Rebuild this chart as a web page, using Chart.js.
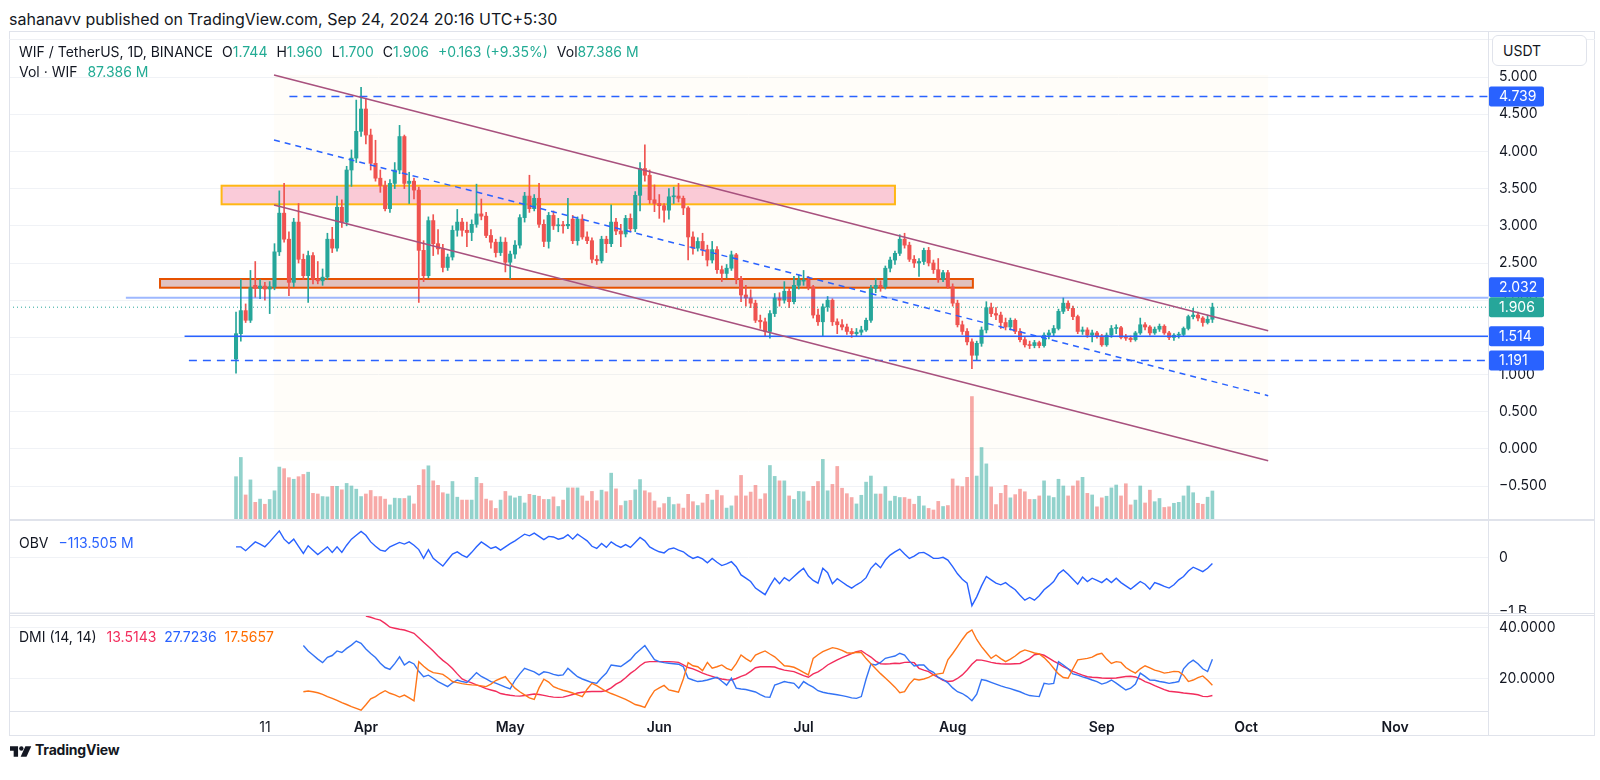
<!DOCTYPE html>
<html lang="en">
<head>
<meta charset="UTF-8" />
<title>WIF / TetherUS 1D</title>
<script src="https://cdn.jsdelivr.net/npm/chart.js"></script>
<style>
  body { margin:0; width:1600px; height:780px; background:#fff; position:relative; overflow:hidden;
         font-family: Inter, "Noto Sans", sans-serif; color:#131722; }
  .abs { position:absolute; white-space:nowrap; }
  canvas { position:absolute; }
  .g { color:#22ab94; }
  .line { position:absolute; background:#e0e3eb; }
  .legend span { margin-left:9px; }
</style>
</head>
<body>

<div class="abs" style="left:9px; top:9px; font-size:16px;">sahanavv published on TradingView.com, Sep 24, 2024 20:16 UTC+5:30</div>

<canvas id="price" width="1581" height="480" style="left:9px; top:39px;"></canvas>
<canvas id="obv" width="1581" height="93" style="left:9px; top:521px;"></canvas>
<canvas id="dmi" width="1581" height="120" style="left:9px; top:616px;"></canvas>

<!-- frame and pane separators -->
<div class="abs" style="left:9px; top:31px; width:1586px; height:705px; border:1px solid #e0e3eb; box-sizing:border-box;"></div>
<div class="line" style="left:9px; top:39px; width:1586px; height:1px; background:#eef0f4;"></div>
<div class="line" style="left:9px; top:519px; width:1586px; height:2px;"></div>
<div class="line" style="left:9px; top:613px; width:1586px; height:1px;"></div>
<div class="line" style="left:9px; top:615px; width:1586px; height:1px;"></div>
<div class="line" style="left:1488px; top:31px; width:1px; height:705px;"></div>

<div class="abs legend" style="left:19px; top:43px; font-size:14px;">WIF / TetherUS, 1D, BINANCE<span>O<b class="g" style="font-weight:400">1.744</b></span><span>H<b class="g" style="font-weight:400">1.960</b></span><span>L<b class="g" style="font-weight:400">1.700</b></span><span>C<b class="g" style="font-weight:400">1.906</b></span><span class="g">+0.163 (+9.35%)</span><span>Vol<b class="g" style="font-weight:400">87.386 M</b></span></div>
<div class="abs" style="left:19px; top:63px; font-size:14px;">Vol · WIF <span class="g" style="margin-left:6px">87.386 M</span></div>
<div class="abs" style="left:19px; top:534px; font-size:14px;">OBV <span style="color:#2962ff; margin-left:6px">−113.505 M</span></div>
<div class="abs" style="left:19px; top:628px; font-size:14px;">DMI (14, 14) <span style="color:#f22c5c; margin-left:6px">13.5143</span> <span style="color:#2962ff; margin-left:4px">27.7236</span> <span style="color:#ff6d00; margin-left:4px">17.5657</span></div>

<div class="abs" style="left:1492px; top:35px; width:95px; height:31px; border:1px solid #e0e3eb; border-radius:6px; box-sizing:border-box; background:#fff; font-size:14px; line-height:29px; padding-left:10px;">USDT</div>

<div class="abs" style="left:10px; top:743px;">
  <svg width="22" height="15" viewBox="0 0 30 20">
    <path d="M0 3 H11 V17 H5 V9 H0 Z" fill="#131722"/>
    <circle cx="15.5" cy="6" r="3" fill="#131722"/>
    <path d="M21 3 H29 L22.5 17 H14.5 Z" fill="#131722"/>
  </svg>
</div>
<div class="abs" style="left:35px; top:741px; font-size:14px; font-weight:700; letter-spacing:-0.2px;">TradingView</div>

<script>
// ---- daily candles, 5 Mar 2024 (index 0) to 24 Sep 2024 (index 203)
const open = [
  1.21,1.55,1.86,1.73,2.20,2.16,2.19,2.15,2.18,2.65,
  3.17,2.82,2.24,3.05,2.55,2.33,2.60,2.28,2.26,2.31,
  2.82,2.70,3.25,3.05,3.75,3.91,4.27,4.57,4.22,3.84,
  3.64,3.54,3.23,3.57,3.75,4.20,3.57,3.60,3.48,2.67,
  2.33,3.07,2.76,2.69,2.44,2.58,2.94,3.05,2.94,2.91,
  3.02,3.16,3.13,2.87,2.78,2.64,2.78,2.51,2.62,2.74,
  3.11,3.40,3.23,3.37,3.02,2.79,3.14,3.00,3.01,3.00,
  3.09,2.80,3.09,2.85,2.80,2.55,2.53,2.82,2.76,3.05,
  2.93,2.89,3.10,2.96,3.41,3.77,3.68,3.35,3.30,3.27,
  3.21,3.39,3.40,3.37,3.24,2.85,2.70,2.79,2.68,2.54,
  2.68,2.41,2.36,2.43,2.61,2.29,2.07,2.03,1.96,1.73,
  1.71,1.58,1.82,2.03,2.00,2.12,1.98,2.20,2.27,2.27,
  2.18,1.80,1.71,1.91,2.00,1.71,1.67,1.64,1.58,1.55,
  1.57,1.60,1.73,2.16,2.20,2.18,2.43,2.54,2.63,2.82,
  2.74,2.55,2.50,2.52,2.67,2.50,2.41,2.28,2.37,2.18,
  1.96,1.67,1.58,1.44,1.26,1.42,1.60,1.90,1.82,1.80,
  1.70,1.64,1.73,1.58,1.47,1.40,1.39,1.43,1.39,1.53,
  1.56,1.62,1.85,1.96,1.89,1.78,1.58,1.60,1.53,1.56,
  1.52,1.40,1.53,1.62,1.63,1.50,1.49,1.47,1.56,1.67,
  1.64,1.56,1.61,1.65,1.56,1.50,1.53,1.54,1.62,1.78,
  1.80,1.76,1.70,1.744
];
const high = [
  1.84,2.28,1.95,2.40,2.52,2.28,2.24,2.25,2.76,3.47,
  3.57,2.92,3.10,3.30,2.62,2.66,2.64,2.52,2.42,2.90,
  2.98,3.40,3.35,3.80,4.02,4.69,4.86,4.70,4.30,4.15,
  3.75,3.60,3.62,3.85,4.35,4.22,3.72,3.64,3.52,2.80,
  3.12,3.15,2.95,2.75,2.62,3.00,3.22,3.10,3.05,3.08,
  3.56,3.36,3.18,2.95,2.82,2.85,2.84,2.66,2.80,3.15,
  3.45,3.68,3.42,3.57,3.08,3.18,3.20,3.10,3.06,3.37,
  3.14,3.12,3.15,2.92,2.84,2.60,2.86,2.86,3.28,3.10,
  3.02,3.14,3.16,3.46,3.85,4.09,3.75,3.55,3.42,3.30,
  3.50,3.52,3.57,3.40,3.26,2.92,2.84,2.90,2.74,2.79,
  2.72,2.46,2.48,2.66,2.63,2.32,2.20,2.14,2.00,1.80,
  1.76,1.86,2.09,2.10,2.25,2.16,2.32,2.34,2.40,2.32,
  2.20,1.88,1.95,2.05,2.02,1.75,1.74,1.68,1.62,1.62,
  1.65,1.76,2.20,2.29,2.26,2.46,2.58,2.66,2.88,2.90,
  2.78,2.60,2.56,2.70,2.71,2.54,2.56,2.40,2.40,2.22,
  2.00,1.72,1.62,1.48,1.45,1.64,1.98,1.96,1.90,1.84,
  1.76,1.76,1.75,1.62,1.50,1.45,1.46,1.45,1.56,1.60,
  1.66,1.88,2.03,1.99,1.92,1.80,1.64,1.63,1.60,1.58,
  1.54,1.56,1.66,1.67,1.65,1.54,1.52,1.58,1.76,1.70,
  1.66,1.64,1.68,1.67,1.58,1.55,1.57,1.64,1.80,1.89,
  1.84,1.78,1.80,1.960
];
const low = [
  1.02,1.45,1.70,1.70,2.04,2.02,2.00,1.82,2.14,2.60,
  2.78,2.06,2.18,2.50,2.28,1.97,2.22,2.22,2.20,2.28,
  2.64,2.66,2.98,3.00,3.53,3.85,4.20,4.10,3.75,3.60,
  3.45,3.20,3.18,3.50,3.70,3.50,3.30,3.36,1.97,2.25,
  2.30,2.60,2.62,2.38,2.40,2.54,2.86,2.86,2.72,2.80,
  2.98,3.08,2.84,2.70,2.58,2.60,2.38,2.29,2.56,2.70,
  3.05,3.18,3.20,2.98,2.72,2.70,2.95,2.92,2.90,2.96,
  2.76,2.74,2.82,2.76,2.50,2.48,2.50,2.64,2.72,2.88,
  2.72,2.85,2.92,2.92,3.20,3.60,3.30,3.19,3.10,3.05,
  3.09,3.30,3.32,3.15,2.54,2.62,2.66,2.60,2.46,2.50,
  2.36,2.25,2.30,2.40,2.22,1.98,1.92,1.90,1.70,1.62,
  1.52,1.49,1.78,1.92,1.96,1.90,1.95,2.15,2.20,2.14,
  1.76,1.66,1.51,1.85,1.66,1.55,1.60,1.54,1.50,1.51,
  1.53,1.58,1.70,2.10,2.12,2.15,2.38,2.48,2.60,2.70,
  2.52,2.44,2.32,2.48,2.46,2.36,2.24,2.25,2.16,1.92,
  1.64,1.54,1.40,1.08,1.20,1.38,1.56,1.78,1.74,1.62,
  1.60,1.60,1.55,1.44,1.37,1.35,1.36,1.36,1.37,1.48,
  1.52,1.60,1.82,1.86,1.74,1.55,1.54,1.50,1.44,1.49,
  1.38,1.38,1.50,1.55,1.48,1.46,1.44,1.45,1.54,1.60,
  1.53,1.54,1.58,1.54,1.47,1.46,1.49,1.52,1.60,1.75,
  1.72,1.65,1.68,1.700
];
const close = [
  1.55,1.86,1.73,2.17,2.16,2.19,2.15,2.18,2.65,3.17,
  2.82,2.24,3.05,2.55,2.33,2.60,2.28,2.26,2.31,2.82,
  2.70,3.25,3.05,3.75,3.91,4.27,4.57,4.22,3.84,3.64,
  3.54,3.23,3.57,3.75,4.20,3.57,3.60,3.48,2.67,2.33,
  3.07,2.76,2.69,2.44,2.58,2.94,3.05,2.94,2.91,3.02,
  3.16,3.13,2.87,2.78,2.64,2.78,2.51,2.62,2.74,3.11,
  3.40,3.23,3.37,3.02,2.79,3.14,3.00,3.01,3.00,3.02,
  2.80,3.09,2.85,2.80,2.55,2.53,2.82,2.76,3.05,2.93,
  2.89,3.10,2.96,3.41,3.77,3.68,3.35,3.30,3.27,3.21,
  3.39,3.40,3.37,3.24,2.85,2.70,2.79,2.68,2.54,2.68,
  2.41,2.36,2.43,2.61,2.29,2.07,2.03,1.96,1.73,1.71,
  1.58,1.82,2.03,2.00,2.12,1.98,2.20,2.27,2.27,2.18,
  1.80,1.71,1.91,2.00,1.71,1.67,1.64,1.58,1.55,1.57,
  1.60,1.73,2.16,2.20,2.18,2.43,2.54,2.63,2.82,2.74,
  2.55,2.50,2.52,2.67,2.50,2.41,2.28,2.37,2.18,1.96,
  1.67,1.58,1.44,1.26,1.42,1.60,1.90,1.82,1.80,1.70,
  1.64,1.73,1.58,1.47,1.40,1.39,1.43,1.39,1.53,1.56,
  1.62,1.85,1.96,1.89,1.78,1.58,1.60,1.53,1.56,1.52,
  1.40,1.53,1.62,1.63,1.50,1.49,1.47,1.56,1.67,1.64,
  1.56,1.61,1.65,1.56,1.50,1.53,1.54,1.62,1.78,1.80,
  1.76,1.70,1.744,1.906
];
// volume, millions of WIF
const volume = [
  132,192,75,122,52,62,46,61,88,162,
  157,129,124,132,139,146,80,78,70,69,
  102,102,91,111,103,93,70,78,89,70,
  70,62,44,65,64,64,72,47,105,154,
  166,119,105,82,78,117,68,59,59,59,
  130,111,62,57,33,59,86,72,66,71,
  50,77,74,71,61,61,69,39,59,97,
  97,97,72,56,86,57,90,85,143,94,
  42,56,58,91,123,88,82,56,35,48,
  68,45,47,34,77,54,42,50,77,59,
  90,73,34,41,72,136,72,84,105,62,
  79,167,133,119,119,72,61,86,85,56,
  102,117,186,88,108,164,96,79,67,47,
  74,115,134,78,78,101,56,71,67,67,
  62,46,71,41,33,28,55,39,42,125,
  103,101,130,382,134,223,172,100,45,80,
  105,66,76,93,85,61,61,72,119,72,
  67,124,103,72,103,119,130,80,75,38,
  66,71,97,106,72,110,44,59,103,50,
  90,54,64,36,38,49,52,72,103,82,
  49,46,68,87.386
];
// on-balance volume, billions
const obv = [
  0.19,0.19,0.12,0.20,0.28,0.24,0.19,0.28,0.38,0.48,
  0.33,0.25,0.33,0.20,0.07,0.21,0.13,0.05,0.12,0.19,
  0.09,0.19,0.09,0.22,0.33,0.40,0.47,0.40,0.28,0.20,
  0.13,0.11,0.19,0.23,0.27,0.24,0.28,0.22,0.14,-0.02,
  0.14,-0.02,-0.09,-0.16,-0.05,0.06,0.10,0.04,0.00,0.09,
  0.19,0.28,0.22,0.16,0.19,0.13,0.19,0.25,0.30,0.36,
  0.42,0.39,0.44,0.38,0.32,0.38,0.37,0.33,0.35,0.41,
  0.33,0.42,0.36,0.30,0.20,0.16,0.25,0.18,0.28,0.22,
  0.18,0.23,0.18,0.27,0.36,0.30,0.19,0.14,0.10,0.08,
  0.15,0.17,0.13,0.10,0.03,-0.02,0.01,-0.03,-0.10,-0.02,
  -0.09,-0.15,-0.12,-0.08,-0.17,-0.32,-0.38,-0.44,-0.56,-0.62,
  -0.68,-0.52,-0.38,-0.48,-0.37,-0.43,-0.35,-0.27,-0.20,-0.34,
  -0.42,-0.47,-0.20,-0.28,-0.48,-0.39,-0.45,-0.51,-0.56,-0.50,
  -0.45,-0.37,-0.20,-0.11,-0.19,-0.05,0.04,0.10,0.15,0.06,
  -0.02,0.02,0.08,0.09,0.04,-0.02,-0.02,0.00,-0.05,-0.17,
  -0.30,-0.40,-0.47,-0.88,-0.72,-0.52,-0.35,-0.41,-0.47,-0.50,
  -0.46,-0.53,-0.59,-0.69,-0.78,-0.73,-0.78,-0.70,-0.59,-0.52,
  -0.44,-0.30,-0.23,-0.31,-0.40,-0.49,-0.36,-0.44,-0.38,-0.42,
  -0.46,-0.39,-0.46,-0.38,-0.46,-0.52,-0.58,-0.51,-0.44,-0.49,
  -0.58,-0.46,-0.49,-0.53,-0.56,-0.50,-0.41,-0.35,-0.25,-0.18,
  -0.22,-0.26,-0.20,-0.1135
];
// DMI (14, 14): ADX from index 27, +DI / -DI from index 14
const adx = [
  null,null,null,null,null,null,null,null,null,null,
  null,null,null,null,null,null,null,null,null,null,
  null,null,null,null,null,null,null,44.7,44.2,43.6,
  43.1,41.8,40.3,39.9,39.5,39.2,38.6,37.9,36.2,34.4,
  32.7,31.0,29.0,27.3,25.9,24.1,22.0,20.0,19.2,18.5,
  17.7,17.0,16.2,15.7,15.2,14.3,13.9,13.6,13.4,13.3,
  13.5,13.8,14.1,13.9,13.6,13.2,12.9,12.8,12.9,13.4,
  13.9,14.5,14.8,15.0,15.1,15.1,15.1,15.5,16.5,18.0,
  19.0,20.5,22.2,23.5,25.2,26.5,26.8,26.8,26.8,26.8,
  26.8,26.7,26.5,25.5,24.5,24.0,23.2,22.3,21.6,21.0,
  20.4,20.0,19.7,19.6,20.2,21.0,21.7,23.0,24.4,24.8,
  24.8,24.8,24.7,24.0,23.5,23.2,22.9,22.1,21.3,20.7,
  22.0,22.8,24.0,25.5,26.5,27.5,28.4,29.2,30.0,30.7,
  31.1,29.8,28.6,27.0,26.0,25.9,26.0,26.2,26.1,26.5,
  26.6,26.4,24.2,23.5,22.9,21.6,20.6,19.5,19.0,19.2,
  20.2,21.6,23.5,25.8,27.5,27.4,27.0,26.5,26.2,26.0,
  25.9,25.9,26.0,26.1,27.0,28.0,29.5,29.8,29.3,28.2,
  27.0,26.0,24.8,24.0,23.0,22.2,21.5,20.9,20.7,20.6,
  20.4,20.3,20.3,20.4,20.7,21.0,21.1,20.8,20.0,19.0,
  18.3,17.4,16.6,15.8,15.2,15.0,14.8,14.5,14.3,14.1,
  13.8,13.2,13.1,13.51
];
const plusDI = [
  null,null,null,null,null,null,null,null,null,null,
  null,null,null,null,33.1,31.0,29.4,27.8,26.4,28.5,
  29.2,31.0,30.4,32.0,33.3,34.9,34.0,31.8,30.0,28.4,
  26.2,24.5,23.8,26.0,28.7,25.5,26.8,25.9,23.0,20.9,
  21.5,20.3,19.0,18.0,17.0,18.5,19.6,19.0,18.6,20.5,
  22.5,21.0,20.0,19.0,18.4,17.6,16.8,16.1,19.5,22.0,
  24.2,23.5,22.8,21.6,22.8,22.5,21.8,21.4,21.6,24.2,
  22.5,20.9,20.0,19.3,18.6,18.3,20.5,22.3,25.5,25.2,
  24.9,26.2,27.6,29.8,31.5,33.1,30.3,27.6,26.8,26.4,
  26.2,26.0,25.8,24.8,20.3,19.6,19.0,19.2,19.6,20.2,
  20.7,19.1,17.6,20.3,16.4,16.1,15.9,15.4,14.9,13.9,
  13.0,12.8,17.6,18.3,19.0,18.6,18.3,16.4,19.0,17.8,
  16.8,15.4,14.8,14.4,14.1,13.8,13.5,13.1,12.6,12.4,
  13.1,20.0,25.9,25.5,26.5,28.1,28.6,29.0,30.1,29.4,
  27.0,25.1,25.5,25.5,23.6,22.6,20.6,19.8,18.5,16.5,
  15.0,14.3,13.1,11.5,14.0,19.8,19.4,18.7,18.0,17.3,
  16.7,16.2,15.6,15.0,14.2,13.5,13.3,13.1,18.3,18.0,
  18.3,26.8,25.5,24.0,22.0,21.5,20.8,20.3,19.6,19.0,
  18.0,18.6,19.6,18.4,17.0,15.7,16.4,18.0,22.3,21.0,
  19.6,19.5,19.0,18.7,18.3,18.6,19.0,24.0,26.1,27.4,
  26.0,24.0,22.9,27.72
];
const minusDI = [
  null,null,null,null,null,null,null,null,null,null,
  null,null,null,null,15.0,15.3,15.0,14.6,14.0,13.1,
  12.4,11.6,10.7,10.0,9.2,8.5,7.8,9.9,12.2,13.1,
  14.4,15.4,14.4,13.8,12.9,13.7,12.6,11.4,26.8,25.0,
  23.5,22.5,22.2,21.8,20.5,19.0,18.6,18.2,17.9,17.7,
  17.6,17.3,17.0,18.0,19.4,20.2,20.9,18.5,16.4,15.0,
  13.8,12.6,12.0,16.5,19.9,18.8,17.0,16.2,15.6,15.1,
  14.5,13.8,13.1,16.0,18.3,17.4,16.2,15.1,14.3,13.6,
  12.8,12.0,11.0,10.0,9.5,8.9,12.5,15.4,16.5,17.5,
  15.7,15.3,14.8,20.0,26.4,25.2,24.8,23.3,26.5,24.2,
  24.8,25.5,24.2,23.5,26.0,29.4,28.0,26.8,29.4,30.2,
  31.0,29.8,28.7,27.0,25.2,25.0,24.6,23.7,22.6,21.6,
  28.1,29.5,30.7,31.5,32.3,31.9,31.2,30.3,30.1,30.5,
  30.4,28.0,26.0,24.0,22.1,20.4,18.6,16.8,14.6,15.0,
  18.0,20.0,19.6,20.0,20.6,21.6,22.0,22.3,27.5,30.0,
  32.7,35.5,38.0,39.2,35.5,32.7,30.4,28.1,29.4,28.0,
  26.8,27.8,29.0,30.5,31.4,30.8,30.2,29.8,28.4,26.5,
  24.2,22.0,20.6,20.3,24.0,27.5,27.8,28.1,28.6,29.6,
  30.1,27.8,26.1,26.8,26.5,24.5,23.3,22.3,24.0,25.2,
  24.4,23.5,23.0,22.3,22.6,23.0,22.9,21.5,19.0,19.6,
  20.5,21.2,19.5,17.57
];

// axis ticks
const priceTicks = [-0.5, 0, 0.5, 1, 1.5, 2, 2.5, 3, 3.5, 4, 4.5, 5];
const obvTicks = [0, -1];
const dmiTicks = [20, 40];
const tickDays = [6, 27, 57, 88, 118, 149, 180, 210, 241];
const tickLabels = ['11', 'Apr', 'May', 'Jun', 'Jul', 'Aug', 'Sep', 'Oct', 'Nov'];

// drawings (day index, price)
const channelDays = [7.9, 214.6];
const channelUpper = [5.027, 1.59];
const channelLower = [3.28, -0.157];
const channelMid = [4.153, 0.716];
const zoneStart = [-3.0, -15.8];
const zoneEnd = [137.0, 153.2];
const zoneTop = [3.539, 2.285];
const zoneBottom = [3.289, 2.168];
const levelValues = [4.739, 2.032, 1.906, 1.514, 1.191];
const levelStart = [11.1, -22.9, -47.2, -10.7, -9.8];

// ---- view
const X_MIN = -47.2, X_MAX = 260.3;
const AXIS_W = 102;
const GREEN = '#26a69a', RED = '#ef5350';
const BLUE = '#2962ff';
const VOL_PER_PX = 3.12;

Chart.defaults.font.family = 'Inter, "Noto Sans", sans-serif';
Chart.defaults.color = '#131722';

const days = close.map((_, i) => i);
const up = close.map((c, i) => c >= open[i]);
const pts = arr => arr.map((v, i) => ({ x: i, y: v }));
const seg = (xs, ys) => [{ x: xs[0], y: ys[0] }, { x: xs[1], y: ys[1] }];

function fmtPrice(v) {
  const s = Math.abs(v).toFixed(3);
  return v < 0 ? '−' + s : s;
}
function fitAxis(s) { s.width = AXIS_W; s.paddingTop = 0; s.paddingBottom = 0; }
const baseX = { type: 'linear', min: X_MIN, max: X_MAX, display: false, offset: false, grid: { display: false } };
const baseOpts = {
  responsive: false, animation: false, devicePixelRatio: 1,
  layout: { padding: 0 },
  plugins: { legend: { display: false }, tooltip: { enabled: false } },
  elements: { point: { radius: 0 }, line: { tension: 0 } }
};

// zones and channel background, under the candles
const drawings = {
  id: 'drawings',
  beforeDatasetsDraw(chart) {
    const { ctx, chartArea: a, scales: { x, y } } = chart;
    ctx.save();
    ctx.beginPath();
    ctx.rect(a.left, a.top, a.right - a.left, a.bottom - a.top);
    ctx.clip();
    const bx0 = x.getPixelForValue(channelDays[0]), bx1 = x.getPixelForValue(channelDays[1]);
    const by0 = y.getPixelForValue(channelUpper[0]), by1 = y.getPixelForValue(channelLower[1]);
    ctx.fillStyle = 'rgba(255, 226, 180, 0.08)';
    ctx.fillRect(bx0, by0, bx1 - bx0, by1 - by0);

    const fills = ['rgba(245, 160, 185, 0.55)', 'rgba(180, 110, 110, 0.42)'];
    const strokes = ['#ffb714', '#e65100'];
    zoneStart.forEach((s, k) => {
      const x0 = x.getPixelForValue(s), x1 = x.getPixelForValue(zoneEnd[k]);
      const y0 = y.getPixelForValue(zoneTop[k]), y1 = y.getPixelForValue(zoneBottom[k]);
      ctx.fillStyle = fills[k];
      ctx.fillRect(x0, y0, x1 - x0, y1 - y0);
      ctx.strokeStyle = strokes[k];
      ctx.lineWidth = 2;
      ctx.strokeRect(x0, y0, x1 - x0, y1 - y0);
    });
    ctx.restore();
  }
};

// price tags on the right axis
const tags = {
  id: 'tags',
  afterDraw(chart) {
    const { ctx, chartArea: a, scales: { y } } = chart;
    const h = 20, last = close[close.length - 1];
    const items = levelValues.map(v => ({ v, y: y.getPixelForValue(v), fixed: v === last }));
    items.sort((p, q) => p.y - q.y);
    const f = items.findIndex(t => t.fixed);
    for (let k = f - 1; k >= 0; k--) if (items[k].y > items[k + 1].y - h) items[k].y = items[k + 1].y - h;
    for (let k = f + 1; k < items.length; k++) if (items[k].y < items[k - 1].y + h) items[k].y = items[k - 1].y + h;
    ctx.save();
    items.forEach(t => {
      ctx.fillStyle = t.fixed ? GREEN : BLUE;
      ctx.beginPath();
      ctx.roundRect(a.right + 1, t.y - h / 2, 55, h, 2);
      ctx.fill();
      ctx.fillStyle = '#fff';
      ctx.font = '14px Inter, "Noto Sans", sans-serif';
      ctx.textBaseline = 'middle';
      ctx.fillText(fmtPrice(t.v), a.right + 11, t.y + 0.5);
    });
    ctx.restore();
  }
};

const levelStyles = [
  { color: BLUE, width: 1.5, dash: [8, 6] },
  { color: 'rgba(41, 98, 255, 0.45)', width: 2, dash: [] },
  { color: GREEN, width: 1, dash: [1, 3] },
  { color: BLUE, width: 1.5, dash: [] },
  { color: BLUE, width: 1.5, dash: [8, 6] }
];
const levelSets = levelValues.map((v, k) => ({
  type: 'line', data: seg([levelStart[k], X_MAX], [v, v]),
  borderColor: levelStyles[k].color, borderWidth: levelStyles[k].width, borderDash: levelStyles[k].dash,
  pointRadius: 0, order: 2
}));

new Chart(document.getElementById('price'), {
  type: 'bar',
  data: {
    datasets: [
      { type: 'line', data: seg(channelDays, channelUpper), borderColor: '#a8517e', borderWidth: 1.6, pointRadius: 0, order: 1 },
      { type: 'line', data: seg(channelDays, channelLower), borderColor: '#a8517e', borderWidth: 1.6, pointRadius: 0, order: 1 },
      { type: 'line', data: seg(channelDays, channelMid), borderColor: BLUE, borderWidth: 1.5, borderDash: [6, 5], pointRadius: 0, order: 1 },
      ...levelSets,
      { data: days.map(i => ({ x: i, y: [low[i], high[i]] })), backgroundColor: up.map(u => u ? GREEN : RED),
        barThickness: 1, grouped: false, order: 5 },
      { data: days.map(i => ({ x: i, y: [open[i], close[i]] })), backgroundColor: up.map(u => u ? GREEN : RED),
        barThickness: 3.4, minBarLength: 1, grouped: false, order: 4 },
      { data: pts(volume), yAxisID: 'yv', backgroundColor: up.map(u => u ? 'rgba(38,166,154,0.5)' : 'rgba(239,83,80,0.5)'),
        barThickness: 3, grouped: false, order: 10 }
    ]
  },
  options: {
    ...baseOpts,
    scales: {
      x: baseX,
      y: {
        position: 'right', min: -0.941, max: 5.511, beginAtZero: false,
        afterBuildTicks: s => { s.ticks = priceTicks.map(v => ({ value: v })); },
        afterFit: fitAxis,
        ticks: { padding: 11, font: { size: 14 }, color: '#131722', callback: v => fmtPrice(v) },
        grid: { color: '#f0f2f6', drawTicks: false },
        border: { display: true, color: '#e0e3eb' }
      },
      yv: { display: false, min: 0, max: VOL_PER_PX * 480, beginAtZero: true }
    }
  },
  plugins: [drawings, tags]
});

new Chart(document.getElementById('obv'), {
  type: 'line',
  data: { datasets: [{ data: pts(obv), borderColor: BLUE, borderWidth: 1.4, pointRadius: 0 }] },
  options: {
    ...baseOpts,
    scales: {
      x: baseX,
      y: {
        position: 'right', min: -1.031, max: 0.66,
        afterBuildTicks: s => { s.ticks = obvTicks.map(v => ({ value: v })); },
        afterFit: fitAxis,
        ticks: { padding: 11, font: { size: 14 }, color: '#131722', callback: v => v === 0 ? '0' : '−' + Math.abs(v) + ' B' },
        grid: { color: '#f0f2f6', drawTicks: false },
        border: { display: true, color: '#e0e3eb' }
      }
    }
  }
});

new Chart(document.getElementById('dmi'), {
  type: 'line',
  data: {
    datasets: [
      { data: pts(minusDI), borderColor: '#ff7518', borderWidth: 1.4, pointRadius: 0 },
      { data: pts(plusDI), borderColor: '#3373f5', borderWidth: 1.4, pointRadius: 0 },
      { data: pts(adx), borderColor: '#f22c5c', borderWidth: 1.4, pointRadius: 0 }
    ]
  },
  options: {
    ...baseOpts,
    scales: {
      x: {
        type: 'linear', min: X_MIN, max: X_MAX, offset: false,
        afterBuildTicks: s => { s.ticks = tickDays.map(v => ({ value: v })); },
        afterFit: s => { s.height = 25; s.paddingLeft = 0; s.paddingRight = 0; },
        ticks: {
          autoSkip: false, maxRotation: 0, padding: 8, color: '#131722',
          font: ctx => ({ size: 14, weight: ctx.index === 0 ? '400' : '600' }),
          callback: v => tickLabels[tickDays.indexOf(v)]
        },
        grid: { display: false, drawTicks: false },
        border: { display: true, color: '#e0e3eb' }
      },
      y: {
        position: 'right', min: 7.45, max: 44.7,
        afterBuildTicks: s => { s.ticks = dmiTicks.map(v => ({ value: v })); },
        afterFit: fitAxis,
        ticks: { padding: 11, font: { size: 14 }, color: '#131722', callback: v => v.toFixed(4) },
        grid: { color: '#f0f2f6', drawTicks: false },
        border: { display: true, color: '#e0e3eb' }
      }
    }
  }
});
</script>
</body>
</html>
